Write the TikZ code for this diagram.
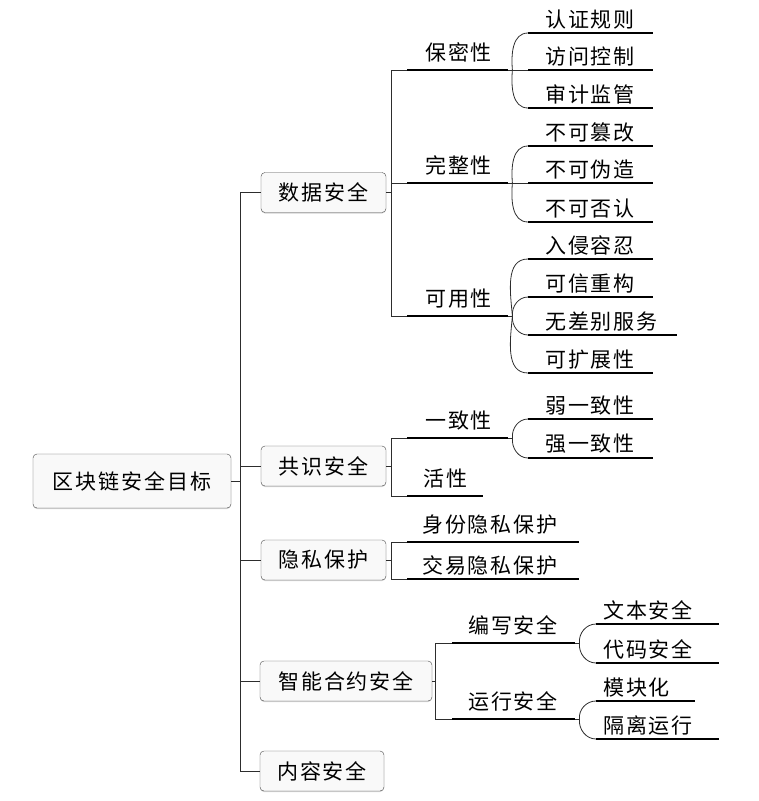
\documentclass[tikz,border=0pt]{standalone}
\usepackage{fontspec}
\newfontfamily\cjk[LetterSpace=9]{Noto Sans CJK SC}
\usetikzlibrary{shadows}

\begin{document}
\begin{tikzpicture}[x=1pt,y=-1pt,
    box/.style={draw=gray!60!black,rounded corners=4pt,fill=gray!5,
      drop shadow={shadow xshift=0pt,shadow yshift=-1pt,opacity=0.35},
      inner sep=0pt,minimum height=40pt,font=\cjk\fontsize{21}{25}\selectfont},
    sub/.style 2 args={anchor=south west,inner xsep=0pt,inner ysep=4pt,text width=#1,
      align=left,execute at begin node={\hspace*{#2}},font=\cjk\fontsize{21}{25}\selectfont},
    mid/.style={inner ysep=7.5pt},
    link/.style={draw=gray!35!black,line width=0.8pt},
    uline/.style={line width=2.6pt}]
    \useasboundingbox (0,0) rectangle (759,801);

    % root and first level
    \node (root) at (132,481) [box,minimum width=198pt,minimum height=54pt] {区块链安全目标};
    \node (ds) at (323.5,192.5) [box,minimum width=125pt] {数据安全};
    \node (gs) at (323.5,466) [box,minimum width=125pt] {共识安全};
    \node (ys) at (323.5,560) [box,minimum width=125pt] {隐私保护};
    \node (zn) at (346,681) [box,minimum width=172pt] {智能合约安全};
    \node (nr) at (322,771) [box,minimum width=124pt] {内容安全};

    % second level
    \node (bm) at (407,70) [sub={101pt}{18pt},mid] {保密性};
    \node (wz) at (407,183) [sub={101pt}{18pt},mid] {完整性};
    \node (ky) at (407,316) [sub={101pt}{18pt},mid] {可用性};
    \node (yz) at (407,438) [sub={101pt}{18pt},mid] {一致性};
    \node (hx) at (407,496) [sub={76pt}{16pt},mid] {活性};
    \node (sf) at (407,542) [sub={172pt}{15pt},mid] {身份隐私保护};
    \node (jy) at (407,579) [sub={172pt}{15pt}] {交易隐私保护};
    \node (bx) at (452,643) [sub={123pt}{16pt},mid] {编写安全};
    \node (yx) at (452,719) [sub={123pt}{16pt},mid] {运行安全};

    % leaves
    \node (rz) at (528,33) [sub={125pt}{17pt}] {认证规则};
    \node (fw) at (528,70) [sub={125pt}{17pt}] {访问控制};
    \node (sj) at (528,108) [sub={125pt}{17pt}] {审计监管};
    \node (bk) at (528,146) [sub={125pt}{17pt}] {不可篡改};
    \node (bw) at (528,183) [sub={125pt}{17pt}] {不可伪造};
    \node (bf) at (528,222) [sub={125pt}{17pt}] {不可否认};
    \node (rq) at (528,259) [sub={125pt}{17pt}] {入侵容忍};
    \node (kx) at (528,297) [sub={125pt}{17pt}] {可信重构};
    \node (wc) at (528,335) [sub={149pt}{17pt}] {无差别服务};
    \node (kk) at (528,373) [sub={125pt}{17pt}] {可扩展性};
    \node (ryz) at (528,419) [sub={125pt}{17pt}] {弱一致性};
    \node (qyz) at (528,458) [sub={125pt}{17pt}] {强一致性};
    \node (wb) at (596,624) [sub={123pt}{7pt}] {文本安全};
    \node (dm) at (596,663) [sub={123pt}{7pt}] {代码安全};
    \node (mk) at (596,701) [sub={99pt}{7pt}] {模块化};
    \node (gl) at (596,739) [sub={123pt}{7pt}] {隔离运行};

    % underlines
    \foreach \n in {bm,wz,ky,yz,hx,sf,jy,bx,yx,rz,fw,sj,bk,bw,bf,rq,kx,wc,kk,ryz,qyz,wb,dm,mk,gl}
      \draw[uline] (\n.south west) -- (\n.south east);

    % elbow links
    \foreach \n in {ds,gs,ys,zn,nr}
      \draw[link] (root.east) -- ++(9,0) |- (\n.west);
    \foreach \n in {bm,wz,ky}
      \draw[link] (ds.east) -- ++(5,0) |- (\n.south west);
    \foreach \n in {yz,hx}
      \draw[link] (gs.east) -- ++(5,0) |- (\n.south west);
    \foreach \n in {sf,jy}
      \draw[link] (ys.east) -- ++(5,0) |- (\n.south west);
    \foreach \n in {bx,yx}
      \draw[link] (zn.east) -- ++(3,0) |- (\n.south west);

    % curved links
    \draw[link] (bm.south east) -- ++(4,0) coordinate (j1);
    \draw[link] (j1) to[out=95,in=180] (rz.south west);
    \draw[link] (j1) -- (fw.south west);
    \draw[link] (j1) to[out=-95,in=180] (sj.south west);
    \draw[link] (wz.south east) -- ++(4,0) coordinate (j2);
    \draw[link] (j2) to[out=95,in=180] (bk.south west);
    \draw[link] (j2) -- (bw.south west);
    \draw[link] (j2) to[out=-95,in=180] (bf.south west);
    \draw[link] (ky.south east) -- ++(4,0) coordinate (j3);
    \draw[link] (j3) to[out=95,in=180] (rq.south west);
    \draw[link] (j3) to[out=95,in=180] (kx.south west);
    \draw[link] (j3) to[out=-95,in=180] (wc.south west);
    \draw[link] (j3) to[out=-95,in=180] (kk.south west);
    \draw[link] (yz.south east) -- ++(4,0) coordinate (j4);
    \draw[link] (j4) to[out=95,in=180] (ryz.south west);
    \draw[link] (j4) to[out=-95,in=180] (qyz.south west);
    \draw[link] (bx.south east) -- ++(4,0) coordinate (j5);
    \draw[link] (j5) to[out=95,in=180] (wb.south west);
    \draw[link] (j5) to[out=-95,in=180] (dm.south west);
    \draw[link] (yx.south east) -- ++(4,0) coordinate (j6);
    \draw[link] (j6) to[out=95,in=180] (mk.south west);
    \draw[link] (j6) to[out=-95,in=180] (gl.south west);
\end{tikzpicture}
\end{document}
